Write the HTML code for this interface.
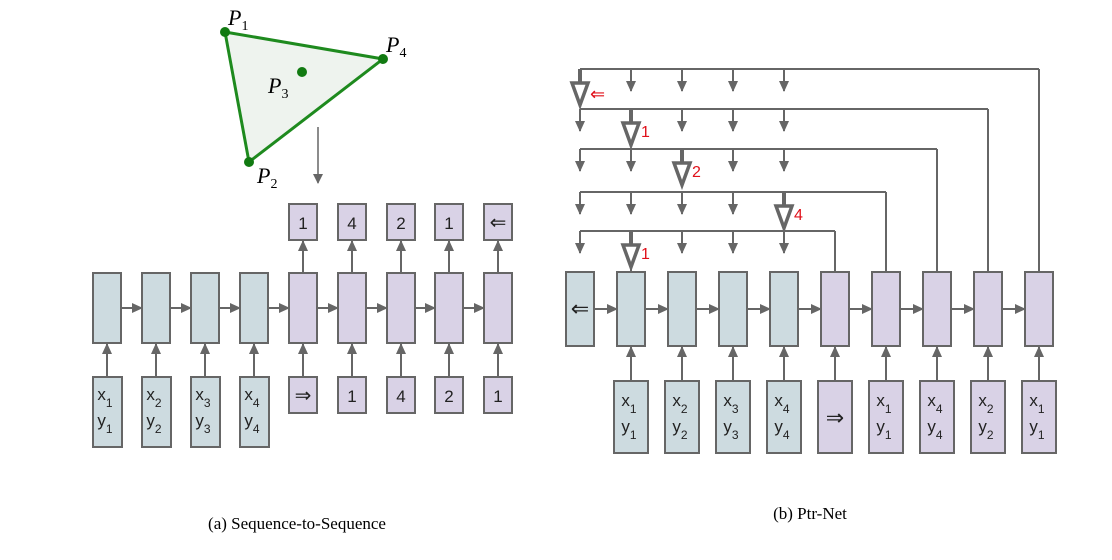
<!DOCTYPE html>
<html><head><meta charset="utf-8"><style>
body{margin:0;background:#fff;width:1112px;height:555px;overflow:hidden}
text{font-family:"Liberation Sans",sans-serif}
</style></head><body>
<svg id="s" width="1112" height="555" xmlns="http://www.w3.org/2000/svg">
<defs>
<marker id="a" markerWidth="11" markerHeight="10" refX="10" refY="5" orient="auto" markerUnits="userSpaceOnUse"><path d="M0,0 L11,5 L0,10 z" fill="#666"/></marker>
<marker id="b" markerWidth="10" markerHeight="10" refX="9" refY="5" orient="auto" markerUnits="userSpaceOnUse"><path d="M0,0 L10,5 L0,10 z" fill="#666"/></marker>
</defs>
<polygon points="225,32 383,59 249,162" fill="#eef3ee" stroke="#1e8a1e" stroke-width="3"/>
<circle cx="225" cy="32" r="5" fill="#117a11"/><circle cx="383" cy="59" r="5" fill="#117a11"/><circle cx="249" cy="162" r="5" fill="#117a11"/><circle cx="302" cy="72" r="5" fill="#117a11"/>
<g font-family="Liberation Serif" font-style="italic" font-size="22">
<text x="228" y="25" style="font-family:'Liberation Serif'">P<tspan font-size="14" dy="5" font-style="normal">1</tspan></text>
<text x="386" y="52" style="font-family:'Liberation Serif'">P<tspan font-size="14" dy="5" font-style="normal">4</tspan></text>
<text x="268" y="93" style="font-family:'Liberation Serif'">P<tspan font-size="14" dy="5" font-style="normal">3</tspan></text>
<text x="257" y="183" style="font-family:'Liberation Serif'">P<tspan font-size="14" dy="5" font-style="normal">2</tspan></text>
</g>
<line x1="318" y1="127" x2="318" y2="183" stroke="#666" stroke-width="1.5" marker-end="url(#b)"/>
<text x="297" y="529" font-size="17" text-anchor="middle" style="font-family:'Liberation Serif'">(a) Sequence-to-Sequence</text>
<text x="810" y="519" font-size="17" text-anchor="middle" style="font-family:'Liberation Serif'">(b) Ptr-Net</text>
<g id="g"></g>
</svg>
<script>
var g=document.getElementById('g'),h='';
var B='#cddbe0',P='#d9d2e6',S='#666';
function R(x,y,w,hh,f){h+='<rect x="'+x+'" y="'+y+'" width="'+w+'" height="'+hh+'" fill="'+f+'" stroke="'+S+'" stroke-width="2"/>';}
function L(x1,y1,x2,y2,w,m){h+='<line x1="'+x1+'" y1="'+y1+'" x2="'+x2+'" y2="'+y2+'" stroke="'+S+'" stroke-width="'+(w||2)+'"'+(m?' marker-end="url(#a)"':'')+'/>';}
function T(x,y,t,s,c){h+='<text x="'+x+'" y="'+y+'" font-size="'+(s||17)+'" text-anchor="middle" fill="'+(c||'#222')+'">'+t+'</text>';}
function XY(cx,y,i,j){h+='<text x="'+(cx-3)+'" y="'+y+'" font-size="17" text-anchor="middle" fill="#222">x<tspan font-size="12" dy="7">'+i+'</tspan></text>';
 h+='<text x="'+(cx-3)+'" y="'+(y+26)+'" font-size="17" text-anchor="middle" fill="#222">y<tspan font-size="12" dy="7">'+j+'</tspan></text>';}
// (a)
var ax=[93,142,191,240,289,338,387,435,484];
var outs=['1','4','2','1','&#8656;'],ins=['&#8658;','1','4','2','1'];
for(var k=0;k<9;k++){var x=ax[k],c=x+14;R(x,273,28,70,k<4?B:P);
 if(k<8)L(x+28,308,ax[k+1],308,2,1);
 if(k<4){R(x,377,29,70,B);XY(c+1,400,k+1,k+1);L(c,377,c,344,2,1);}
 else{var j=k-4;R(x,377,28,36,P);T(c,402,ins[j],j==0?20:17);L(c,377,c,344,2,1);R(x,204,28,36,P);T(c,229,outs[j],j==4?20:17);L(c,273,c,241,2,1);}
}
// (b)
var bx=[566,617,668,719,770,821,872,923,974,1025];
var bi=[['1','1'],['2','2'],['3','3'],['4','4'],null,['1','1'],['4','4'],['2','2'],['1','1']];
for(var k=0;k<10;k++){var x=bx[k],c=x+14;R(x,272,28,74,k<5?B:P);
 if(k<9)L(x+28,309,bx[k+1],309,2,1);
 if(k==0){T(c,316,'&#8656;',22);}
 else{R(c-17,381,34,72,k<5?B:P);var q=bi[k-1];if(q)XY(c+1,406,q[0],q[1]);else T(c,425,'&#8658;',22);L(c,381,c,347,2,1);}
}
var ly=[69,109,149,192,231],rx=[1039,988,937,886,835],cols=[580,631,682,733,784];
var big=[0,1,2,4,1],lab=['&#8656;','1','2','4','1'];
for(var r=0;r<5;r++){var y=ly[r];L(cols[0],y,rx[r],y,2);L(rx[r],y,rx[r],272,2);
 for(var i=0;i<5;i++){var c=cols[i];
  if(i==big[r]){L(c,y,c,y+14,4);h+='<polygon points="'+(c-8)+','+(y+14)+' '+(c+8)+','+(y+14)+' '+c+','+(y+36)+'" fill="#fff" stroke="'+S+'" stroke-width="3.5" stroke-linejoin="miter"/>';
   if(r==4)L(c,y+36,c,272,2);
   h+='<text x="'+(c+10)+'" y="'+(y+(r==0?31:28))+'" font-size="'+(r==0?18:16)+'" fill="#e0101a">'+lab[r]+'</text>';}
  else L(c,y,c,y+22,2,1);}
}
g.innerHTML=h;
</script>
</body></html>
